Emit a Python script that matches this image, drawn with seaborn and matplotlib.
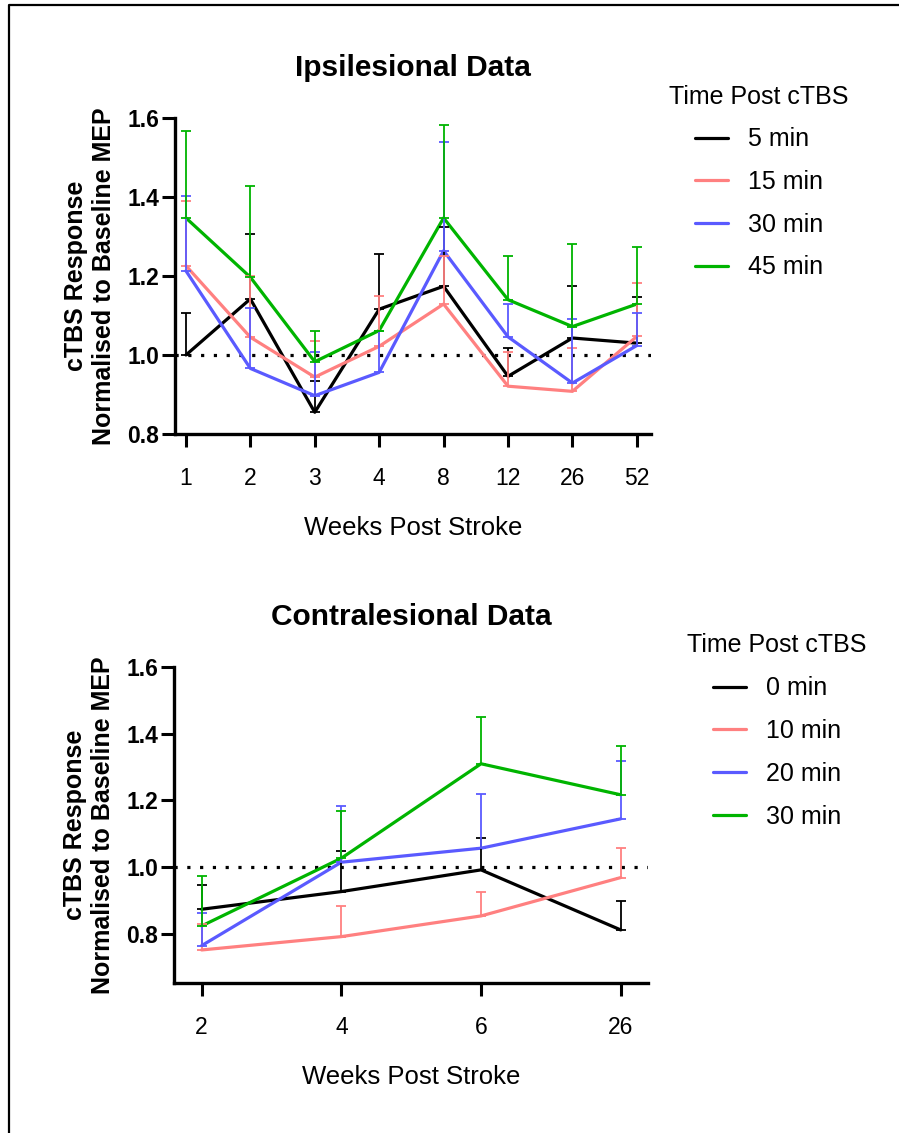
"""
two-panel line chart of cTBS response after stroke, with one-sided error bars
"""

import pandas as pd
import seaborn as sns
from matplotlib import pyplot as plt
from matplotlib.lines import Line2D


# ipsilesional data
ipsi_weeks = ["1", "2", "3", "4", "8", "12", "26", "52"]
ipsi_times = ["5 min", "15 min", "30 min", "45 min"]
ipsi_5 = [1.000, 1.142, 0.855, 1.116, 1.174, 0.946, 1.043, 1.030]
ipsi_15 = [1.226, 1.045, 0.944, 1.022, 1.129, 0.921, 0.908, 1.047]
ipsi_30 = [1.213, 0.966, 0.897, 0.956, 1.264, 1.046, 0.929, 1.024]
ipsi_45 = [1.347, 1.197, 0.983, 1.062, 1.347, 1.140, 1.072, 1.129]
ipsi_5_err = [0.106, 0.164, 0.080, 0.139, 0.149, 0.071, 0.132, 0.116]
ipsi_15_err = [0.164, 0.155, 0.092, 0.128, 0.122, 0.086, 0.109, 0.135]
ipsi_30_err = [0.190, 0.153, 0.110, 0.104, 0.274, 0.083, 0.162, 0.082]
ipsi_45_err = [0.221, 0.230, 0.077, 0.000, 0.236, 0.110, 0.209, 0.144]

# contralesional data
contra_weeks = ["2", "4", "6", "26"]
contra_times = ["0 min", "10 min", "20 min", "30 min"]
contra_0 = [0.874, 0.927, 0.992, 0.812]
contra_10 = [0.752, 0.792, 0.854, 0.969]
contra_20 = [0.765, 1.015, 1.057, 1.145]
contra_30 = [0.824, 1.027, 1.310, 1.217]
contra_0_err = [0.073, 0.123, 0.097, 0.088]
contra_10_err = [0.077, 0.093, 0.073, 0.088]
contra_20_err = [0.097, 0.167, 0.163, 0.174]
contra_30_err = [0.150, 0.140, 0.140, 0.147]

colors = ["#000000", "#FF8080", "#5A5AFF", "#00B400"]

sns.set_style("ticks")
plt.rcParams["font.family"] = ["Liberation Sans", "DejaVu Sans"]
# everything in plain black, like the original
for key in ["text.color", "axes.labelcolor", "axes.edgecolor",
            "xtick.color", "ytick.color"]:
    plt.rcParams[key] = "black"


def to_long(weeks, times, means, errs):
    rows = []
    for t, m_list, e_list in zip(times, means, errs):
        for i, (m, e) in enumerate(zip(m_list, e_list)):
            rows.append({"pos": i, "week": weeks[i], "Time Post cTBS": t,
                         "value": m, "err": e})
    return pd.DataFrame(rows)


def draw_panel(fig, ax, df, weeks, times, title, ylim, xlim, legend_xy):
    sns.lineplot(data=df, x="pos", y="value", hue="Time Post cTBS",
                 hue_order=times, palette=colors, linewidth=2.3,
                 errorbar=None, ax=ax, legend=True)
    # one-sided (upper) error bars
    for t, c in zip(times, colors):
        sub = df[df["Time Post cTBS"] == t]
        ax.errorbar(sub["pos"], sub["value"],
                    yerr=[[0] * len(sub), sub["err"]],
                    fmt="none", ecolor=c, elinewidth=1.3, capsize=3.5,
                    capthick=1.3)

    ax.axhline(1.0, color="black", linestyle=(0, (1, 3)), linewidth=2.3,
               zorder=1)

    ax.set_ylim(*ylim)
    ax.set_xlim(*xlim)
    ax.set_yticks([0.8, 1.0, 1.2, 1.4, 1.6])
    ax.set_yticklabels(["0.8", "1.0", "1.2", "1.4", "1.6"],
                       fontweight="bold", fontsize=16.5)
    ax.set_xticks(range(len(weeks)))
    ax.set_xticklabels(weeks, fontsize=16.5)
    ax.tick_params(axis="x", length=9.5, width=2.2, pad=14)
    ax.tick_params(axis="y", length=9.5, width=2.2, pad=2)
    for side in ["left", "bottom"]:
        ax.spines[side].set_linewidth(2.4)
    sns.despine(ax=ax)

    ax.set_xlabel("Weeks Post Stroke", fontsize=18.5, labelpad=19)
    ax.set_ylabel("cTBS Response\nNormalised to Baseline MEP",
                  fontsize=18, fontweight="bold", linespacing=1.2,
                  labelpad=8)
    ax.set_title(title, fontsize=21.5, fontweight="bold", pad=30)

    sns.move_legend(ax, "center", bbox_to_anchor=legend_xy,
                    bbox_transform=fig.transFigure, frameon=False,
                    fontsize=18, title_fontsize=18, handlelength=1.3,
                    handletextpad=0.8, labelspacing=0.75)
    for line in ax.get_legend().get_lines():
        line.set_linewidth(2.3)


def main():
    fig = plt.figure(figsize=(8.99, 11.33), dpi=100)
    ax_top = fig.add_axes([175 / 899, 1 - 434 / 1133, 476 / 899, 316 / 1133])
    ax_bot = fig.add_axes([174 / 899, 1 - 983 / 1133, 474 / 899, 316 / 1133])

    ipsi_df = to_long(ipsi_weeks, ipsi_times,
                      [ipsi_5, ipsi_15, ipsi_30, ipsi_45],
                      [ipsi_5_err, ipsi_15_err, ipsi_30_err, ipsi_45_err])
    contra_df = to_long(contra_weeks, contra_times,
                        [contra_0, contra_10, contra_20, contra_30],
                        [contra_0_err, contra_10_err, contra_20_err,
                         contra_30_err])

    draw_panel(fig, ax_top, ipsi_df, ipsi_weeks, ipsi_times,
               "Ipsilesional Data", (0.8, 1.6), (-0.17, 7.22),
               (759 / 899, 1 - 182 / 1133))
    draw_panel(fig, ax_bot, contra_df, contra_weeks, contra_times,
               "Contralesional Data", (0.653, 1.6), (-0.198, 3.195),
               (777 / 899, 1 - 731 / 1133))

    # frame lines along the top and left of the figure
    fig.add_artist(Line2D([9 / 899, 9 / 899, 1.0],
                          [0.0, 1 - 5 / 1133, 1 - 5 / 1133],
                          transform=fig.transFigure, color="black",
                          linewidth=1.6))

    plt.savefig("out.png", dpi=100)


if __name__ == "__main__":
    main()
